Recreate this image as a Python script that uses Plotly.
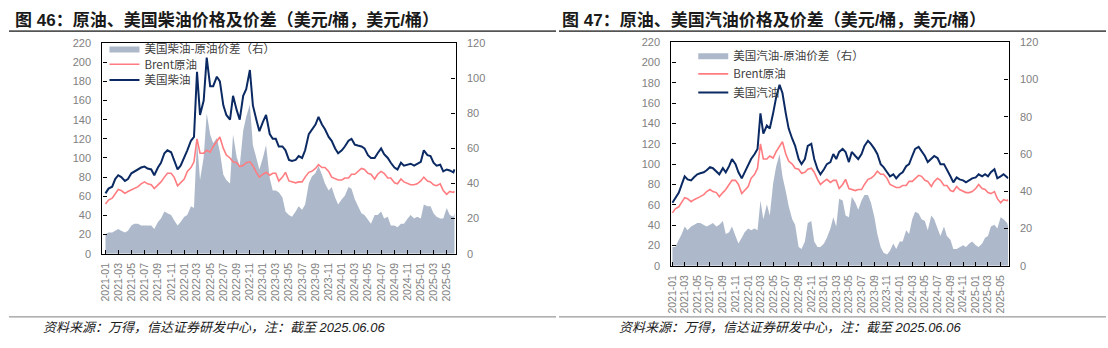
import plotly.graph_objects as go
import pandas as pd

W, H = 1108, 348

# ---------------- data (semi-monthly readings) ----------------
dates = list(pd.date_range("2021-01-01", "2025-06-01", freq="SMS")) + [pd.Timestamp("2025-06-06")]

brent = [52, 56, 58, 63, 67, 66, 63, 65, 67, 68,
         70, 73, 75, 73, 72, 68, 72, 75, 80, 84,
         84, 80, 71, 74, 78, 86, 90, 96, 120, 105,
         105, 108, 106, 112, 118, 122, 110, 103, 100, 96,
         95, 91, 92, 95, 96, 92, 85, 80, 83, 85,
         82, 84, 84, 76, 80, 85, 76, 75, 74, 75,
         75, 80, 85, 86, 89, 93, 90, 90, 86, 80,
         78, 77, 77, 79, 79, 83, 83, 86, 89, 88,
         84, 83, 78, 83, 86, 84, 79, 79, 74, 73,
         78, 75, 73, 72, 72, 73, 76, 80, 76, 75,
         72, 71, 73, 66, 62, 65, 64, 65]

diesel = [63, 68, 70, 78, 82, 80, 76, 78, 84, 86,
          88, 90, 91, 89, 88, 82, 90, 95, 105, 108,
          106, 98, 88, 92, 100, 108, 118, 122, 190, 145,
          160, 205, 175, 175, 185, 180, 155, 145, 140, 165,
          150, 140, 165, 172, 192, 155, 140, 128, 138, 145,
          125, 120, 120, 112, 112, 108, 98, 97, 98, 102,
          100, 108, 125, 130, 135, 143, 135, 130, 122, 118,
          110, 105, 108, 112, 118, 120, 114, 113, 112, 110,
          103, 100, 100, 105, 110, 104, 100, 95, 90, 88,
          95, 92, 93, 94, 92, 94, 96, 108, 103, 102,
          95, 92, 93, 86, 88, 87, 85, 88]

diesel_spread = [11, 12, 12, 13, 14, 13, 12, 13, 16, 17,
                 17, 16, 16, 16, 16, 14, 18, 20, 24, 23,
                 22, 19, 16, 18, 21, 22, 27, 26, 65, 42,
                 55, 80, 68, 63, 66, 58, 45, 42, 40, 68,
                 55, 50, 70, 78, 85, 62, 55, 48, 55, 62,
                 43, 36, 36, 35, 32, 24, 22, 21, 24, 27,
                 25, 28, 40, 44, 46, 50, 45, 40, 36, 38,
                 32, 28, 31, 33, 38, 37, 31, 27, 23, 22,
                 19, 17, 22, 22, 24, 20, 21, 16, 16, 15,
                 17, 17, 20, 22, 20, 21, 20, 28, 27, 27,
                 23, 21, 20, 20, 26, 22, 21, 23]

gasoline = [62, 66, 72, 80, 88, 85, 84, 87, 90, 91,
            92, 94, 97, 96, 93, 90, 96, 92, 98, 105,
            100, 92, 86, 92, 98, 105, 110, 115, 150, 130,
            138, 135, 150, 165, 178, 170, 150, 135, 125, 118,
            105, 100, 105, 118, 120, 105, 95, 90, 95, 100,
            102, 110, 105, 112, 115, 112, 102, 112, 108, 105,
            110, 118, 123, 120, 115, 110, 100, 97, 92, 88,
            90, 86, 90, 92, 98, 100, 108, 115, 117, 113,
            108, 102, 105, 108, 106, 100, 100, 95, 88, 82,
            87, 85, 84, 82, 84, 86, 87, 90, 88, 90,
            88, 92, 95, 86, 88, 90, 87, 86]

gasoline_spread = [10, 10, 14, 17, 21, 19, 21, 22, 23, 23,
                   22, 21, 22, 23, 21, 22, 24, 17, 18, 21,
                   16, 12, 15, 18, 20, 19, 20, 19, 35, 25,
                   33, 27, 44, 53, 60, 48, 40, 32, 25, 22,
                   10, 9, 13, 23, 24, 13, 10, 10, 12, 15,
                   20, 26, 21, 36, 35, 27, 26, 37, 34, 30,
                   35, 38, 38, 34, 26, 17, 10, 7, 6, 8,
                   12, 9, 13, 13, 19, 17, 25, 29, 28, 25,
                   24, 19, 27, 25, 20, 16, 21, 16, 14, 9,
                   9, 10, 11, 10, 12, 13, 11, 10, 12, 15,
                   16, 21, 22, 20, 26, 25, 23, 21]

tick_dates = list(pd.date_range("2021-01-01", "2025-05-01", freq="2MS"))

# ---------------- styling ----------------
FONT = "Liberation Sans, Arial, Noto Sans CJK SC, sans-serif"
CJK = "Noto Sans CJK SC, Liberation Sans, sans-serif"
AREA = "#adb9ca"
PINK = "#ff7c80"
NAVY = "#0b2a63"
TICKC = "#808080"
LEGC = "#404040"


def px(x):
    return x / W


def py(y):
    return 1 - y / H


fig = go.Figure()

# left chart
fig.add_trace(go.Scatter(x=dates, y=diesel_spread, name="美国柴油-原油价差（右）", mode="lines",
                         fill="tozeroy", fillcolor=AREA, line=dict(width=0, color=AREA),
                         xaxis="x", yaxis="y", legend="legend", showlegend=True))
fig.add_trace(go.Scatter(x=dates, y=brent, name="Brent原油", mode="lines",
                         line=dict(color=PINK, width=1.6), xaxis="x", yaxis="y2", legend="legend2"))
fig.add_trace(go.Scatter(x=dates, y=diesel, name="美国柴油", mode="lines",
                         line=dict(color=NAVY, width=2), xaxis="x", yaxis="y2", legend="legend3"))

# right chart
fig.add_trace(go.Scatter(x=dates, y=gasoline_spread, name="美国汽油-原油价差（右）", mode="lines",
                         fill="tozeroy", fillcolor=AREA, line=dict(width=0, color=AREA),
                         xaxis="x2", yaxis="y3", legend="legend4"))
fig.add_trace(go.Scatter(x=dates, y=brent, name="Brent原油", mode="lines",
                         line=dict(color=PINK, width=1.6), xaxis="x2", yaxis="y4", legend="legend5"))
fig.add_trace(go.Scatter(x=dates, y=gasoline, name="美国汽油", mode="lines",
                         line=dict(color=NAVY, width=2), xaxis="x2", yaxis="y4", legend="legend6"))

tickfont = dict(family=FONT, size=11, color=TICKC)
xtickfont = dict(family=FONT, size=10.5, color=TICKC)

common_x = dict(type="date", tickvals=tick_dates, tickformat="%Y-%m", tickangle=-90,
                ticks="inside", ticklen=4, tickcolor="black", tickwidth=1,
                showline=True, linecolor="black", linewidth=1.3, mirror=True,
                showgrid=False, zeroline=False, tickfont=xtickfont, ticklabelstandoff=4)
common_y = dict(ticks="inside", ticklen=4, tickcolor="black", tickwidth=1,
                showline=True, linecolor="black", linewidth=1.3,
                showgrid=False, zeroline=False, tickfont=tickfont, dtick=20,
                ticklabelstandoff=8)

L_dom_x = [px(97), px(452)]
L_dom_y = [py(256.5), py(38.5)]
R_dom_x = [px(669), px(1008)]
R_dom_y = [py(269), py(37.5)]

fig.update_layout(
    width=W, height=H,
    margin=dict(l=0, r=0, t=0, b=0),
    paper_bgcolor="white", plot_bgcolor="white",
    showlegend=True,
    font=dict(family=FONT, color=LEGC),
    xaxis=dict(domain=L_dom_x, anchor="y", range=["2020-12-18", "2025-06-11"], **common_x),
    yaxis=dict(domain=L_dom_y, anchor="x", side="right", range=[0, 120], **common_y),
    yaxis2=dict(overlaying="y", anchor="x", side="left", range=[0, 220], **common_y),
    xaxis2=dict(domain=R_dom_x, anchor="y3", range=["2020-12-27", "2025-06-08"], **common_x),
    yaxis3=dict(domain=R_dom_y, anchor="x2", side="right", range=[0, 120], **common_y),
    yaxis4=dict(overlaying="y3", anchor="x2", side="left", range=[0, 220], **common_y),
)

leg_common = dict(xanchor="left", yanchor="middle", bgcolor="rgba(0,0,0,0)", borderwidth=0,
                  font=dict(family=CJK, size=11.5, color=LEGC), itemclick=False)
fig.update_layout(
    legend=dict(x=px(99), y=py(44), visible=True, **leg_common),
    legend2=dict(x=px(99), y=py(60.3), **leg_common),
    legend3=dict(x=px(99), y=py(76.6), **leg_common),
    legend4=dict(x=px(691), y=py(51), **leg_common),
    legend5=dict(x=px(691), y=py(70.3), **leg_common),
    legend6=dict(x=px(691), y=py(89.7), **leg_common),
)

# titles, footers
title_font = dict(family="Liberation Sans, Noto Sans CJK SC, sans-serif", size=17, color="#1a1a1a", weight="bold")
foot_font = dict(family="Liberation Sans, Noto Sans CJK SC, sans-serif", size=13, color="#1a1a1a", style="italic")
annots = [
    dict(text="图 46：原油、美国柴油价格及价差（美元/桶，美元/桶）", x=px(7), y=py(14),
         xanchor="left", yanchor="middle", font=title_font),
    dict(text="图 47：原油、美国汽油价格及价差（美元/桶，美元/桶）", x=px(557), y=py(14),
         xanchor="left", yanchor="middle", font=title_font),
    dict(text="资料来源：万得，信达证券研发中心，注：截至 2025.06.06", x=px(35), y=py(333),
         xanchor="left", yanchor="middle", font=foot_font),
    dict(text="资料来源：万得，信达证券研发中心，注：截至 2025.06.06", x=px(614), y=py(333),
         xanchor="left", yanchor="middle", font=foot_font),
]
for a in annots:
    a.update(xref="paper", yref="paper", showarrow=False)
fig.update_layout(annotations=annots)

shapes = [
    dict(type="line", x0=px(3), x1=px(553), y0=py(26), y1=py(26), line=dict(color="#555555", width=1.6)),
    dict(type="line", x0=px(556), x1=px(1106), y0=py(26), y1=py(26), line=dict(color="#555555", width=1.6)),
    dict(type="line", x0=px(3), x1=px(553), y0=py(322), y1=py(322), line=dict(color="#808080", width=1)),
    dict(type="line", x0=px(556), x1=px(1106), y0=py(322), y1=py(322), line=dict(color="#808080", width=1)),
]
for s in shapes:
    s.update(xref="paper", yref="paper", layer="above")
fig.update_layout(shapes=shapes)

fig.write_html("out.html")
